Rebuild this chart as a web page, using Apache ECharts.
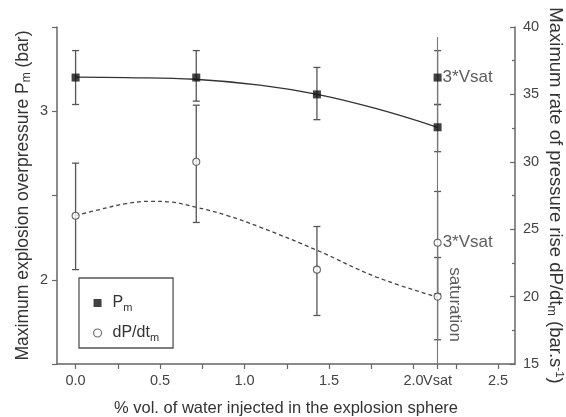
<!DOCTYPE html>
<html>
<head>
<meta charset="utf-8">
<script src="https://cdn.jsdelivr.net/npm/echarts@6/dist/echarts.min.js"></script>
<style>
html, body { margin: 0; padding: 0; background: #fff; }
#container { width: 566px; height: 417px; }
</style>
</head>
<body>
<div id="container"></div>
<script>
// % vol. of water, Vsat = 2.14
var vsat = 2.142;
var waterPct = [0, 0.714, 1.428, vsat, vsat];

// max overpressure Pm (bar) + error bar ends
var pmValue = [3.20, 3.20, 3.10, 2.905, 3.20];
var pmLow = [3.04, 3.06, 2.95, 2.76, 3.04];
var pmHigh = [3.36, 3.36, 3.26, 3.04, 3.36];

// max rate of pressure rise dP/dt (bar/s) + error bar ends
var dpValue = [26.0, 30.0, 22.0, 20.0, 24.0];
var dpLow = [22.0, 25.5, 18.6, 16.8, 20.2];
var dpHigh = [29.9, 34.2, 25.2, 22.9, 27.8];

// labels beside some points
var pmNotes = ['', '', '', '', '3*Vsat'];
var dpNotes = ['', '', '', 'saturation', '3*Vsat'];

// trend curves
var pmFitX = [0, 0.30, 0.705, 1.09, 1.43, 1.78, 2.142];
var pmFitY = [3.203, 3.200, 3.19, 3.155, 3.10, 3.015, 2.905];
var dpFitX = [0, 0.142, 0.30, 0.44, 0.557, 0.705, 0.893, 1.09, 1.43, 1.78, 2.142];
var dpFitY = [26.0, 26.46, 26.9, 27.07, 27.02, 26.65, 26.03, 25.16, 23.43, 21.45, 19.96];

// x axis ticks and labels
var xTickValues = [0, 0.25, 0.5, 0.75, 1, 1.25, 1.5, 1.75, 2, vsat, 2.25, 2.5];
var xLabelValues = [0, 0.5, 1, 1.5, 2, vsat, 2.5];

var textColor = '#333';
var axisColor = '#666';

function zip(a, b) {
    var out = [];
    for (var i = 0; i < a.length; i++) out.push([a[i], b[i]]);
    return out;
}

function errorData(lows, highs) {
    var out = [];
    for (var i = 0; i < waterPct.length; i++) out.push([waterPct[i], lows[i], highs[i]]);
    return out;
}

function errorBars(params, api) {
    var x = api.value(0);
    var lo = api.coord([x, api.value(1)]);
    var hi = api.coord([x, api.value(2)]);
    var w = 3.5;
    var st = { stroke: '#555', lineWidth: 1.3 };
    return {
        type: 'group',
        children: [
            { type: 'line', shape: { x1: lo[0], y1: lo[1], x2: hi[0], y2: hi[1] }, style: st },
            { type: 'line', shape: { x1: lo[0] - w, y1: lo[1], x2: lo[0] + w, y2: lo[1] }, style: st },
            { type: 'line', shape: { x1: hi[0] - w, y1: hi[1], x2: hi[0] + w, y2: hi[1] }, style: st }
        ]
    };
}

var noteLabel = {
    show: true,
    position: 'right',
    distance: 1,
    fontSize: 17,
    color: textColor,
    formatter: function (p) { return p.data.note; }
};

function pointData(vals, notes) {
    var out = [];
    for (var i = 0; i < waterPct.length; i++) {
        var item = { value: [waterPct[i], vals[i]], note: notes[i] };
        if (notes[i] === 'saturation') {
            // rotated label, offset is in the rotated frame
            item.label = { show: true, position: 'inside', rotate: -90, offset: [8, -17], align: 'center', verticalAlign: 'middle' };
        } else if (!notes[i]) {
            item.label = { show: false };
        }
        out.push(item);
    }
    return out;
}

var dom = document.getElementById('container');
var myChart = echarts.init(dom, null, { renderer: 'canvas' });

var option = {
    animation: false,
    backgroundColor: '#fff',
    textStyle: { fontFamily: 'Liberation Sans, Arial, sans-serif' },
    grid: { left: 57, right: 51, top: 27, bottom: 53, outerBoundsMode: 'none' },
    legend: {
        orient: 'vertical',
        left: 79,
        top: 278,
        padding: [15, 14, 5, 14],
        itemGap: 10,
        itemWidth: 20,
        itemHeight: 8,
        borderColor: '#555',
        borderWidth: 1.3,
        data: [
            { name: 'Pm', icon: 'path://M0,0H10V10H0Z', itemStyle: { color: '#111' } },
            { name: 'dPdt', icon: 'circle', itemStyle: { color: '#fff', borderColor: '#444', borderWidth: 1.1 } }
        ],
        formatter: function (name) {
            return name === 'Pm' ? 'P{sub|m}' : 'dP/dt{sub|m}';
        },
        textStyle: {
            fontSize: 16,
            color: textColor,
            lineHeight: 20,
            rich: { sub: { fontSize: 11, lineHeight: 12, verticalAlign: 'bottom', color: textColor } }
        }
    },
    xAxis: {
        type: 'value',
        min: -0.11,
        max: 2.6,
        name: '% vol. of water injected in the explosion sphere',
        nameLocation: 'middle',
        nameGap: 34,
        nameMoveOverlap: false,
        nameTextStyle: { fontSize: 16.5, color: textColor, lineHeight: 20 },
        axisLine: { onZero: false, lineStyle: { color: axisColor, width: 1.5 } },
        axisTick: { show: true, length: 5, customValues: xTickValues, lineStyle: { color: axisColor, width: 1.2 } },
        axisLabel: {
            fontSize: 14.5,
            color: '#444',
            margin: 9,
            customValues: xLabelValues,
            formatter: function (v) { return Math.abs(v - vsat) < 1e-6 ? 'Vsat' : v.toFixed(1); }
        },
        splitLine: { show: false }
    },
    yAxis: [
        {
            type: 'value',
            position: 'left',
            min: 1.5,
            max: 3.5,
            interval: 0.5,
            name: 'Maximum explosion overpressure P{sub|m} (bar)',
            nameLocation: 'middle',
            nameGap: 24,
            nameMoveOverlap: false,
            nameTextStyle: {
                fontSize: 17.5, color: textColor, lineHeight: 20,
                rich: { sub: { fontSize: 12, lineHeight: 12, verticalAlign: 'bottom', color: textColor } }
            },
            axisLine: { show: true, onZero: false, lineStyle: { color: axisColor, width: 1.5 } },
            axisTick: { show: true, length: 5, lineStyle: { color: axisColor, width: 1.2 } },
            axisLabel: {
                fontSize: 14.5,
                color: '#444',
                margin: 9,
                formatter: function (v) { return v % 1 === 0 ? String(v) : ''; }
            },
            splitLine: { show: false }
        },
        {
            type: 'value',
            position: 'right',
            min: 15,
            max: 40,
            interval: 5,
            name: 'Maximum rate of pressure rise dP/dt{sub|m} (bar.s{sup|-1})',
            nameLocation: 'middle',
            nameRotate: -90,
            nameGap: 30,
            nameMoveOverlap: false,
            nameTextStyle: {
                fontSize: 18.5, color: textColor, lineHeight: 20,
                rich: {
                    sub: { fontSize: 12.5, lineHeight: 12, verticalAlign: 'bottom', color: textColor },
                    sup: { fontSize: 11.5, lineHeight: 11, verticalAlign: 'top', color: textColor }
                }
            },
            axisLine: { show: true, onZero: false, lineStyle: { color: axisColor, width: 1.5 } },
            axisTick: { show: true, inside: true, length: 5, lineStyle: { color: axisColor, width: 1.2 } },
            minorTick: { show: true, splitNumber: 2, length: 3, lineStyle: { color: axisColor, width: 1.2 } },
            axisLabel: { fontSize: 14.5, color: '#444', margin: 8 },
            splitLine: { show: false }
        }
    ],
    series: [
        {
            type: 'line',
            name: 'pmFit',
            yAxisIndex: 0,
            data: zip(pmFitX, pmFitY),
            smooth: 0.4,
            showSymbol: false,
            lineStyle: { color: '#333', width: 1.3 },
            z: 2,
            markLine: {
                silent: true,
                symbol: ['none', 'none'],
                label: { show: false },
                lineStyle: { color: '#777', width: 1.1, type: 'solid' },
                data: [[{ coord: [vsat, 1.5] }, { coord: [vsat, 3.44] }]]
            }
        },
        {
            type: 'line',
            name: 'dpFit',
            yAxisIndex: 1,
            data: zip(dpFitX, dpFitY),
            smooth: 0.4,
            showSymbol: false,
            lineStyle: { color: '#444', width: 1.3, type: [4, 3] },
            z: 2
        },
        {
            type: 'custom',
            name: 'pmErr',
            yAxisIndex: 0,
            renderItem: errorBars,
            data: errorData(pmLow, pmHigh),
            z: 3
        },
        {
            type: 'custom',
            name: 'dpErr',
            yAxisIndex: 1,
            renderItem: errorBars,
            data: errorData(dpLow, dpHigh),
            z: 3
        },
        {
            type: 'scatter',
            name: 'Pm',
            yAxisIndex: 0,
            symbol: 'rect',
            symbolSize: 8,
            itemStyle: { color: '#111' },
            label: noteLabel,
            data: pointData(pmValue, pmNotes),
            z: 5
        },
        {
            type: 'scatter',
            name: 'dPdt',
            yAxisIndex: 1,
            symbol: 'circle',
            symbolSize: 7,
            itemStyle: { color: '#fff', borderColor: '#444', borderWidth: 1.1 },
            label: noteLabel,
            data: pointData(dpValue, dpNotes),
            z: 5
        }
    ]
};

myChart.setOption(option);
window.addEventListener('resize', myChart.resize);
</script>
</body>
</html>
